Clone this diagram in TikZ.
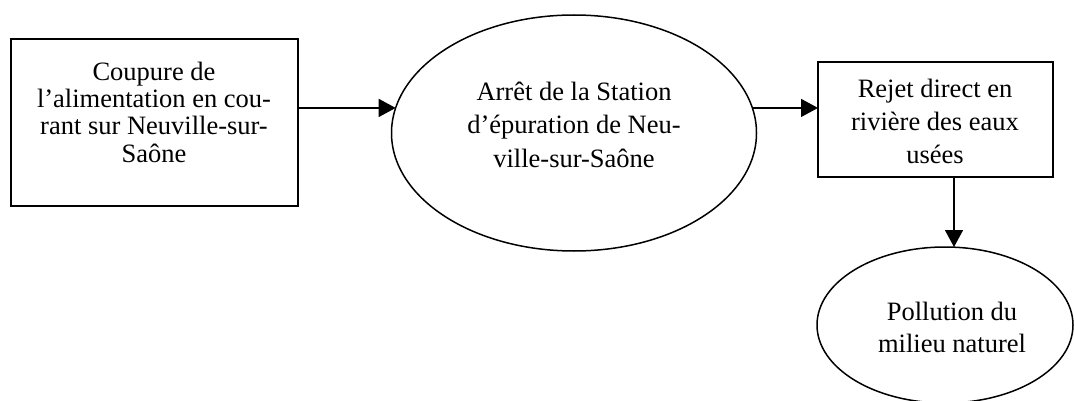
\documentclass[tikz,border=0pt]{standalone}
\usepackage{fontspec}
\setmainfont{Liberation Serif}
\usetikzlibrary{arrows.meta,shapes.geometric}
\tikzset{
  shapebox/.style={draw, line width=1.5pt, rectangle, inner sep=0pt, outer sep=0pt},
  shapeell/.style={draw, line width=1.5pt, ellipse, inner sep=0pt, outer sep=0pt},
  txt/.style={align=center, inner sep=0pt, font=\fontsize{26.5}{#1}\selectfont},
  arr/.style={line width=1.5pt, -{Triangle[length=17pt,width=18pt]}}
}
\begin{document}
\begin{tikzpicture}[x=1pt,y=-1pt]
\useasboundingbox (0,0) rectangle (1074,401);
% shapes
\node[shapebox, minimum width=287pt, minimum height=167pt] (box1) at (154.5,122.5) {};
\node[shapeell, minimum width=365pt, minimum height=236pt] (ell1) at (574,133) {};
\node[shapebox, minimum width=235pt, minimum height=115pt] (box2) at (935.5,119.5) {};
\node[shapeell, minimum width=256pt, minimum height=156pt] (ell2) at (945,325) {};
% texts
\node[txt=27.3pt] (t1) at (154,112) {Coupure de\\l’alimentation en cou-\\rant sur Neuville-sur-\\Saône};
\node[txt=33.5pt] (t2) at (574,124.6) {Arrêt de la Station\\d’épuration de Neu-\\ville-sur-Saône};
\node[txt=33pt] (t3) at (935,121) {Rejet direct en\\rivière des eaux\\usées};
\node[txt=32pt] (t4) at (952,327) {Pollution du\\milieu naturel};
% connectors
\draw[arr] (box1.east |- ell1.172) -- (ell1.172);
\draw[arr] (ell1.8) -- (box2.west |- ell1.8);
\coordinate (b2s) at ([xshift=18.5pt]box2.south);
\draw[arr] (b2s) -- (b2s |- ell2.north);
\end{tikzpicture}
\end{document}
